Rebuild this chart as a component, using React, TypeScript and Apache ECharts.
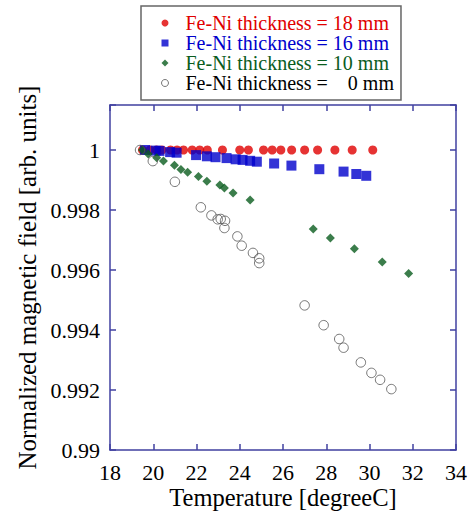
import React, { useEffect, useRef } from 'react';
import * as echarts from 'echarts';

const seriesNames = [
  'Fe-Ni thickness = 18 mm',
  'Fe-Ni thickness = 16 mm',
  'Fe-Ni thickness = 10 mm',
  'Fe-Ni thickness = \u00a0\u00a0\u00a00 mm',
];

const temp18 = [19.5, 19.85, 20.15, 20.4, 20.8, 21.1, 21.4, 21.8, 22.15, 22.5, 23.2, 24.0, 24.4, 25.1, 25.5, 25.9, 26.4, 27.0, 27.6, 28.4, 29.2, 30.15];
const field18 = [1.0, 1.0, 1.0, 1.0, 1.0, 1.0, 1.0, 1.0, 1.0, 1.0, 1.0, 1.0, 1.0, 1.0, 1.0, 1.0, 1.0, 1.0, 1.0, 1.0, 1.0, 1.0];

const temp16 = [19.62, 20.11, 20.29, 20.78, 21.08, 21.98, 22.48, 22.88, 23.39, 23.81, 24.13, 24.48, 24.79, 25.59, 26.39, 27.68, 28.8, 29.39, 29.85];
const field16 = [1.0, 0.99998, 0.99997, 0.99993, 0.99991, 0.99983, 0.99979, 0.99976, 0.99973, 0.99969, 0.99967, 0.99964, 0.99961, 0.99955, 0.99948, 0.99936, 0.99928, 0.9992, 0.99914];

const temp10 = [19.5, 19.77, 20.16, 20.47, 20.98, 21.28, 21.59, 22.09, 22.48, 23.08, 23.29, 23.69, 24.48, 27.4, 28.19, 29.3, 30.59, 31.81];
const field10 = [1.0, 0.99987, 0.99974, 0.99963, 0.99949, 0.99935, 0.99926, 0.99912, 0.99896, 0.99883, 0.99873, 0.99857, 0.99833, 0.99737, 0.99707, 0.99671, 0.99627, 0.99588];

const temp0 = [19.39, 19.98, 21.0, 22.2, 22.69, 22.98, 23.12, 23.32, 23.29, 23.89, 24.09, 24.61, 24.9, 24.9, 27.0, 27.88, 28.6, 28.8, 29.6, 30.09, 30.49, 31.01];
const field0 = [1.0, 0.99963, 0.99894, 0.99809, 0.99782, 0.99769, 0.9977, 0.99764, 0.9974, 0.99712, 0.99681, 0.99657, 0.99639, 0.99623, 0.99482, 0.99416, 0.9937, 0.99341, 0.99292, 0.99257, 0.99234, 0.99203];

const xTicks = { min: 18, max: 34, interval: 2 };
const yTicks = { min: 0.99, max: 1.0015, interval: 0.002 };

const RED = '#e00000';
const BLUE = '#0000cc';
const GREEN = '#0a5c1e';
const GRAY = '#555555';
const AXIS = '#4040a0';
const FONT = 'Liberation Serif';

const pairs = (xs: number[], ys: number[]) => xs.map((x, i) => [x, ys[i]]);

export default function App() {
  const ref = useRef<HTMLDivElement>(null);
  useEffect(() => {
    if (!ref.current) return;
    const chart = echarts.init(ref.current, undefined, { renderer: 'svg' });
    const axisLine = { show: true, lineStyle: { color: AXIS, width: 1.5 } };
    const axisTick = { show: true, inside: true, length: 6, lineStyle: { color: AXIS, width: 1.5 } };
    const yFmt = (v: number) => {
      const k = Math.round(v / 0.002);
      if (Math.abs(v - k * 0.002) > 1e-7) return '';
      return String(parseFloat(v.toFixed(3)));
    };
    chart.setOption({
      animation: false,
      backgroundColor: '#ffffff',
      textStyle: { fontFamily: FONT },
      grid: { left: 110, right: 15, top: 105, bottom: 62, containLabel: false, outerBoundsMode: 'none' },
      legend: {
        orient: 'vertical',
        left: 141,
        top: 6,
        padding: [7, 7, 7, 20],
        itemGap: 0,
        itemWidth: 7,
        itemHeight: 7,
        borderColor: '#666666',
        borderWidth: 1.5,
        backgroundColor: '#ffffff',
        textStyle: { fontFamily: FONT, fontSize: 20, lineHeight: 20, padding: [0, 0, 0, 12] },
        data: [
          { name: seriesNames[0], icon: 'circle', textStyle: { color: RED } },
          { name: seriesNames[1], icon: 'rect', textStyle: { color: BLUE } },
          { name: seriesNames[2], icon: 'diamond', textStyle: { color: GREEN } },
          {
            name: seriesNames[3],
            icon: 'circle',
            textStyle: { color: '#000000' },
            itemStyle: { color: 'rgba(0,0,0,0)', borderColor: GRAY, borderWidth: 1 },
          },
        ],
      },
      xAxis: [
        {
          type: 'value',
          ...xTicks,
          position: 'bottom',
          name: 'Temperature [degreeC]',
          nameLocation: 'middle',
          nameGap: 35,
          nameMoveOverlap: false,
          nameTextStyle: { fontFamily: FONT, fontSize: 24.5, color: '#000' },
          axisLine,
          axisTick,
          splitLine: { show: false },
          axisLabel: { fontFamily: FONT, fontSize: 22, color: '#000', margin: 11 },
        },
        {
          type: 'value',
          ...xTicks,
          position: 'top',
          axisLine,
          axisTick,
          splitLine: { show: false },
          axisLabel: { show: false },
        },
      ],
      yAxis: [
        {
          type: 'value',
          ...yTicks,
          position: 'left',
          name: 'Normalized magnetic field [arb. units]',
          nameLocation: 'middle',
          nameGap: 70,
          nameMoveOverlap: false,
          nameTextStyle: { fontFamily: FONT, fontSize: 25, color: '#000' },
          axisLine,
          axisTick,
          splitLine: { show: false },
          axisLabel: { fontFamily: FONT, fontSize: 22, color: '#000', margin: 10, formatter: yFmt },
        },
        {
          type: 'value',
          ...yTicks,
          position: 'right',
          axisLine,
          axisTick,
          splitLine: { show: false },
          axisLabel: { show: false },
        },
      ],
      series: [
        {
          name: seriesNames[0],
          type: 'scatter',
          symbol: 'circle',
          symbolSize: 9,
          itemStyle: { color: RED },
          data: pairs(temp18, field18),
        },
        {
          name: seriesNames[1],
          type: 'scatter',
          symbol: 'rect',
          symbolSize: 10,
          itemStyle: { color: BLUE },
          data: pairs(temp16, field16),
        },
        {
          name: seriesNames[2],
          type: 'scatter',
          symbol: 'diamond',
          symbolSize: 9,
          itemStyle: { color: GREEN },
          data: pairs(temp10, field10),
        },
        {
          name: seriesNames[3],
          type: 'scatter',
          symbol: 'circle',
          symbolSize: 9.5,
          itemStyle: { color: 'rgba(0,0,0,0)', borderColor: GRAY, borderWidth: 1 },
          data: pairs(temp0, field0),
        },
      ],
    });
    return () => chart.dispose();
  }, []);
  return <div ref={ref} style={{ position: 'fixed', left: 0, top: 0, width: 471, height: 512 }} />;
}
